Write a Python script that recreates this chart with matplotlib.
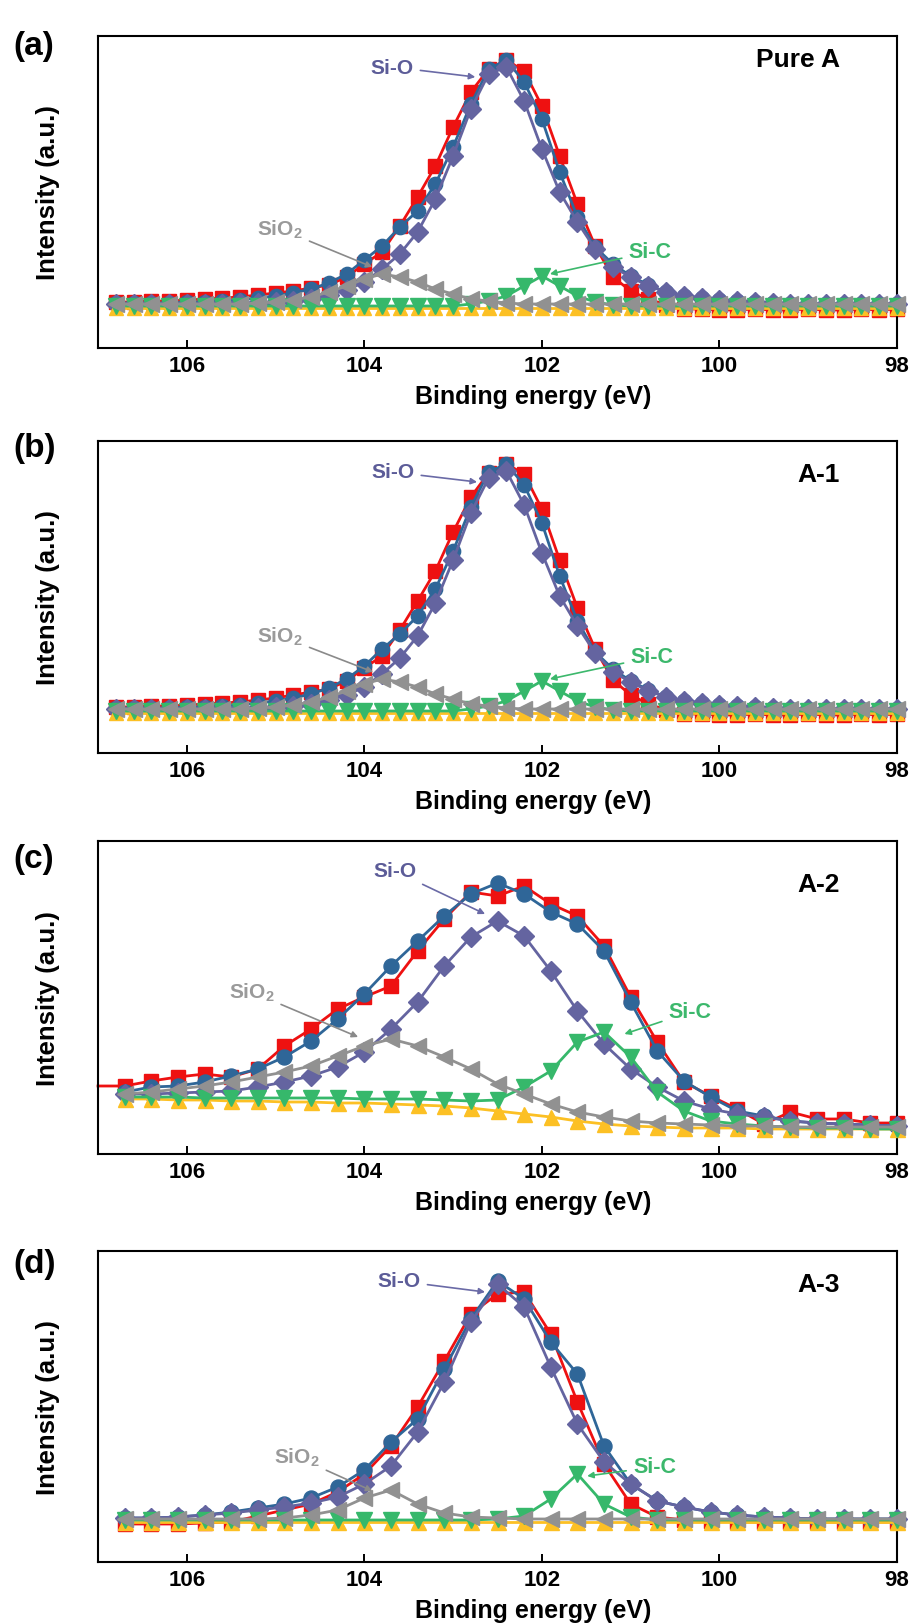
import matplotlib
matplotlib.use('Agg')
import matplotlib.pyplot as plt

plt.rcParams['font.family'] = ['Liberation Sans', 'DejaVu Sans']
plt.rcParams['font.weight'] = 'bold'
plt.rcParams['axes.labelweight'] = 'bold'
plt.rcParams['mathtext.fontset'] = 'custom'
plt.rcParams['mathtext.rm'] = 'Liberation Sans:bold'
plt.rcParams['mathtext.bf'] = 'Liberation Sans:bold'
plt.rcParams['mathtext.it'] = 'Liberation Sans:bold'
plt.rcParams['mathtext.default'] = 'rm'

# binding energy grids (eV)
energy_ab = [106.8, 106.6, 106.4, 106.2, 106.0, 105.8, 105.6, 105.4, 105.2, 105.0,
             104.8, 104.6, 104.4, 104.2, 104.0, 103.8, 103.6, 103.4, 103.2, 103.0,
             102.8, 102.6, 102.4, 102.2, 102.0, 101.8, 101.6, 101.4, 101.2, 101.0,
             100.8, 100.6, 100.4, 100.2, 100.0, 99.8, 99.6, 99.4, 99.2, 99.0,
             98.8, 98.6, 98.4, 98.2, 98.0]
energy_cd = [106.7, 106.4, 106.1, 105.8, 105.5, 105.2, 104.9, 104.6, 104.3, 104.0,
             103.7, 103.4, 103.1, 102.8, 102.5, 102.2, 101.9, 101.6, 101.3, 101.0,
             100.7, 100.4, 100.1, 99.8, 99.5, 99.2, 98.9, 98.6, 98.3, 98.0]
energy_c_raw = [107.0] + energy_cd

# (a) Pure A
raw_a = [46, 46, 47, 47, 48, 49, 50, 51, 53, 55, 57, 60, 63, 71, 84, 96, 122, 151, 182, 221,
         256, 279, 288, 277, 242, 192, 144, 102, 71, 57, 49, 43, 39, 39, 38, 38, 39, 38, 38, 39,
         38, 38, 39, 38, 39]
fit_a = [45, 45, 45, 45, 46, 46, 47, 48, 50, 52, 55, 59, 65, 74, 88, 102, 121, 137, 164, 201,
         244, 279, 288, 266, 229, 176, 131, 101, 84, 72, 63, 56, 52, 50, 48, 47, 46, 45, 44, 44,
         44, 44, 44, 44, 44]
sio_a = [44, 44, 44, 44, 44, 44, 44, 45, 45, 46, 47, 49, 53, 58, 66, 79, 94, 116, 149, 192,
         239, 274, 281, 247, 199, 156, 126, 99, 81, 71, 62, 56, 52, 50, 48, 47, 46, 45, 44, 44,
         44, 44, 44, 44, 44]
sio2_a = [44, 44, 44, 44, 44, 44, 44, 44, 45, 46, 48, 51, 56, 62, 69, 74, 71, 66, 59, 54,
          49, 47, 45, 44, 44, 44, 44, 44, 44, 44, 44, 44, 44, 44, 44, 44, 44, 44, 44, 44,
          44, 44, 44, 44, 44]
sic_a = [42, 42, 42, 42, 42, 42, 42, 42, 42, 42, 42, 42, 42, 42, 42, 42, 42, 42, 42, 42,
         44, 47, 52, 62, 72, 62, 52, 46, 43, 42, 42, 42, 42, 42, 42, 42, 42, 42, 42, 42,
         42, 42, 42, 42, 42]
bg_a = [40] * 45

# (b) A-1
raw_b = [46, 46, 47, 47, 48, 49, 50, 51, 53, 55, 58, 61, 64, 72, 85, 97, 123, 152, 182, 221,
         256, 280, 289, 279, 244, 193, 145, 104, 73, 58, 49, 43, 39, 39, 38, 38, 39, 38, 38, 39,
         38, 38, 39, 38, 39]
fit_b = [45, 45, 45, 45, 46, 46, 47, 48, 50, 52, 55, 59, 65, 74, 87, 104, 119, 137, 164, 202,
         246, 281, 289, 268, 230, 177, 132, 101, 84, 72, 63, 56, 52, 50, 48, 47, 46, 45, 44, 44,
         44, 44, 44, 44, 44]
sio_b = [44, 44, 44, 44, 44, 44, 44, 45, 45, 46, 47, 49, 53, 58, 66, 79, 95, 117, 150, 193,
         240, 275, 282, 248, 200, 157, 127, 100, 81, 71, 62, 56, 52, 50, 48, 47, 46, 45, 44, 44,
         44, 44, 44, 44, 44]
sio2_b = [44, 44, 44, 44, 44, 44, 44, 44, 45, 46, 48, 51, 56, 62, 69, 74, 71, 66, 59, 54,
          49, 47, 45, 44, 44, 44, 44, 44, 44, 44, 44, 44, 44, 44, 44, 44, 44, 44, 44, 44,
          44, 44, 44, 44, 44]
sic_b = [42, 42, 42, 42, 42, 42, 42, 42, 42, 42, 42, 42, 42, 42, 42, 42, 42, 42, 42, 42,
         44, 47, 52, 62, 72, 62, 52, 46, 43, 42, 42, 42, 42, 42, 42, 42, 42, 42, 42, 42,
         42, 42, 42, 42, 42]
bg_b = [40] * 45

# (c) A-2
raw_c = [68, 68, 73, 77, 80, 77, 85, 108, 125, 145, 157, 168, 203, 235, 262, 258, 268, 250, 238,
         208, 157, 112, 72, 58, 45, 30, 42, 35, 35, 31, 31]
fit_c = [62, 67, 68, 72, 78, 85, 97, 113, 135, 160, 188, 213, 238, 260, 271, 260, 242, 230, 203,
         152, 103, 73, 57, 43, 38, 33, 31, 30, 29, 28]
sio_c = [60, 60, 61, 62, 63, 67, 72, 78, 87, 102, 125, 152, 188, 217, 233, 218, 183, 143, 110,
         85, 67, 53, 45, 40, 37, 33, 31, 30, 29, 28]
sio2_c = [60, 62, 65, 68, 72, 77, 82, 88, 98, 108, 115, 108, 97, 85, 70, 60, 50, 42, 37,
          33, 31, 30, 29, 28, 28, 27, 27, 27, 27, 27]
sic_c = [57, 57, 57, 56, 56, 56, 56, 56, 56, 55, 55, 55, 54, 53, 54, 67, 83, 112, 122,
         97, 62, 43, 33, 30, 28, 27, 26, 26, 25, 25]
bg_c = [55, 55, 54, 54, 53, 53, 52, 52, 51, 51, 50, 49, 48, 46, 43, 40, 37, 33, 30,
        28, 27, 26, 26, 26, 25, 25, 25, 25, 25, 25]

# (d) A-3
raw_d = [38, 38, 38, 39, 40, 46, 52, 58, 70, 88, 116, 155, 201, 248, 268, 270, 228, 160, 98,
         58, 45, 42, 41, 40, 40, 40, 40, 40, 40, 40]
fit_d = [44, 44, 45, 47, 50, 54, 58, 64, 75, 92, 120, 143, 193, 243, 281, 263, 220, 188, 116,
         78, 61, 55, 50, 47, 45, 44, 43, 43, 43, 43]
sio_d = [44, 44, 45, 47, 49, 52, 55, 59, 65, 78, 96, 130, 180, 240, 278, 255, 195, 138, 100,
         78, 61, 55, 50, 47, 45, 44, 43, 43, 43, 43]
sio2_d = [43, 43, 43, 43, 43, 43, 44, 47, 52, 64, 72, 58, 49, 45, 44, 43, 43, 43, 43,
          43, 43, 43, 43, 43, 43, 43, 43, 43, 43, 43]
sic_d = [42, 42, 42, 42, 42, 42, 42, 42, 42, 42, 42, 42, 42, 42, 43, 46, 63, 88, 58,
         45, 42, 42, 42, 42, 42, 42, 42, 42, 42, 42]
bg_d = [40] * 30

panel_tags = ['(a)', '(b)', '(c)', '(d)']
sample_names = ['Pure A', 'A-1', 'A-2', 'A-3']

RED = '#ee1111'
BLUE = '#2f6698'
PURPLE = '#6464a0'
GREY = '#919191'
GREEN = '#36b86b'
YELLOW = '#fcc024'

W, H = 919, 1624
fig = plt.figure(figsize=(W / 100, H / 100), dpi=100)

# axes boxes in pixels: (top, bottom)
boxes = [(37, 349), (442, 754), (842, 1155), (1252, 1563)]
tag_y = [47, 448, 860, 1265]

panels = [
    dict(xr=energy_ab, raw=raw_a, x=energy_ab, fit=fit_a, sio=sio_a, sio2=sio2_a, sic=sic_a, bg=bg_a,
         ms=10.3, mark_raw=None,
         sio_lbl=(103.69, 281), sio_pt=(102.75, 271), sio2_lbl=(104.95, 119), sio2_pt=(103.91, 81),
         sic_lbl=(100.78, 96), sic_pt=(101.91, 74), name_y=289),
    dict(xr=energy_ab, raw=raw_b, x=energy_ab, fit=fit_b, sio=sio_b, sio2=sio2_b, sic=sic_b, bg=bg_b,
         ms=10.3, mark_raw=None,
         sio_lbl=(103.68, 281), sio_pt=(102.73, 271), sio2_lbl=(104.95, 117), sio2_pt=(103.90, 81),
         sic_lbl=(100.76, 96), sic_pt=(101.91, 74), name_y=279),
    dict(xr=energy_c_raw, raw=raw_c, x=energy_cd, fit=fit_c, sio=sio_c, sio2=sio2_c, sic=sic_c, bg=bg_c,
         ms=10.8, mark_raw=list(range(1, 31)),
         sio_lbl=(103.66, 283), sio_pt=(102.64, 240), sio2_lbl=(105.27, 162), sio2_pt=(104.07, 117),
         sic_lbl=(100.33, 142), sic_pt=(101.07, 120), name_y=270),
    dict(xr=energy_cd, raw=raw_d, x=energy_cd, fit=fit_d, sio=sio_d, sio2=sio2_d, sic=sic_d, bg=bg_d,
         ms=10.8, mark_raw=None,
         sio_lbl=(103.61, 281), sio_pt=(102.64, 270), sio2_lbl=(104.76, 105), sio2_pt=(103.91, 71),
         sic_lbl=(100.73, 95), sic_pt=(101.49, 86), name_y=278),
]

left, right = 98, 897
for i, p in enumerate(panels):
    top, bot = boxes[i]
    ax = fig.add_axes([left / W, 1 - bot / H, (right - left) / W, (bot - top) / H])
    ms = p['ms']
    lw = 2.0
    ax.plot(p['xr'], p['raw'], color=RED, marker='s', ms=ms * 0.95, lw=lw, zorder=1,
            markevery=p['mark_raw'], clip_on=False)
    ax.plot(p['x'], p['fit'], color=BLUE, marker='o', ms=ms, lw=lw, zorder=2, clip_on=False)
    ax.plot(p['x'], p['sio'], color=PURPLE, marker='D', ms=ms * 0.95, lw=lw, zorder=3, clip_on=False)
    ax.plot(p['x'], p['bg'], color=YELLOW, marker='^', ms=ms, lw=lw, zorder=4, clip_on=False)
    ax.plot(p['x'], p['sic'], color=GREEN, marker='v', ms=ms * 1.05, lw=lw, zorder=5, clip_on=False)
    ax.plot(p['x'], p['sio2'], color=GREY, marker='<', ms=ms * 1.05, lw=lw, zorder=6, clip_on=False)

    ax.set_xlim(107, 98)
    ax.set_ylim(0, bot - top)
    ax.set_xticks([106, 104, 102, 100, 98])
    ax.set_yticks([])
    ax.tick_params(axis='x', direction='in', length=5.5, width=1.4, labelsize=16, pad=5)
    for s in ax.spines.values():
        s.set_linewidth(1.5)
    ax.set_xlabel('Binding energy (eV)', fontsize=18)
    ax.xaxis.set_label_coords(0.545, -0.115)
    ax.set_ylabel('Intensity (a.u.)', fontsize=18.5)
    ax.yaxis.set_label_coords(-0.048, 0.5)

    arrow = dict(arrowstyle='-|>', lw=1.2, mutation_scale=9, shrinkA=3, shrinkB=0)
    ax.annotate('Si-O', xy=p['sio_pt'], xytext=p['sio_lbl'], color='#5c5c98', fontsize=15,
                ha='center', va='center', arrowprops=dict(arrow, color='#6a6aa6'), zorder=10)
    ax.annotate('SiO$_2$', xy=p['sio2_pt'], xytext=p['sio2_lbl'], color='#9a9a9a', fontsize=15,
                ha='center', va='center', arrowprops=dict(arrow, color='#8a8a8a'), zorder=10)
    ax.annotate('Si-C', xy=p['sic_pt'], xytext=p['sic_lbl'], color='#3cb86c', fontsize=15.5,
                ha='center', va='center', arrowprops=dict(arrow, color='#3cb86c'), zorder=10)
    ax.text(98.64, p['name_y'], sample_names[i], fontsize=19, ha='right', va='center', color='black')

    fig.text(13 / W, 1 - tag_y[i] / H, panel_tags[i], fontsize=24, ha='left', va='center')

fig.savefig('out.png', dpi=100)
